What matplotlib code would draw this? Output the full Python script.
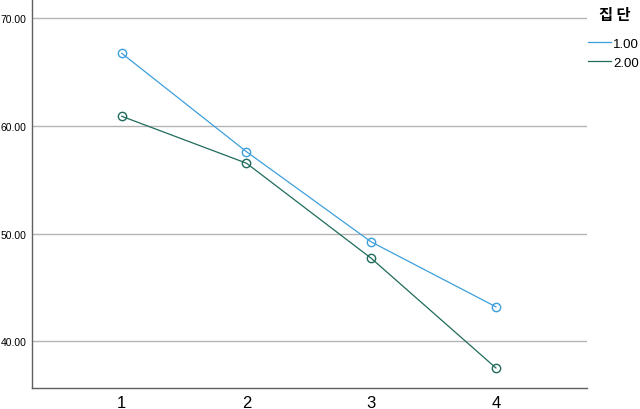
import matplotlib.pyplot as plt

plt.rcParams['font.family'] = ['Noto Sans CJK KR', 'DejaVu Sans']

# 시점 / 집단별 평균
times = [1, 2, 3, 4]
group1 = [66.75, 57.61, 49.23, 43.20]
group2 = [60.90, 56.54, 47.71, 37.52]
y_ticks = [40, 50, 60, 70]

blue = '#3d9fdc'
green = '#1f6b5c'

fig = plt.figure(figsize=(6.4, 4.1), dpi=100)
ax = fig.add_axes([0.05, 0.0512, 0.867, 0.9488])

ax.plot(times, group1, color=blue, lw=0.9, marker='o', ms=6,
        mfc='none', mec=blue, mew=1.0, label='1.00')
ax.plot(times, group2, color=green, lw=0.9, marker='o', ms=6,
        mfc='none', mec=green, mew=1.0, label='2.00')

ax.set_xlim(0.281, 4.729)
ax.set_ylim(35.66, 71.79)
ax.set_xticks(times)
ax.set_xticklabels([str(t) for t in times], fontsize=12, family=['Liberation Sans'])
ax.set_yticks(y_ticks)
ax.set_yticklabels(['%.2f' % v for v in y_ticks], fontsize=7.5, family=['Liberation Sans'])
ax.tick_params(length=0, pad=4)
ax.tick_params(axis='x', pad=5)

ax.grid(axis='y', color='#b4b4b4', lw=1.0)
ax.set_axisbelow(True)
for s in ['top', 'right']:
    ax.spines[s].set_visible(False)
for s in ['left', 'bottom']:
    ax.spines[s].set_color('#606060')
    ax.spines[s].set_linewidth(1.0)

# 범례 제목
fig.text(599 / 640, 1 - 15 / 410, '집 단', fontsize=11, fontweight='bold',
         ha='left', va='center')

leg = fig.legend(loc='upper left', bbox_to_anchor=(588 / 640, 1 - 38.5 / 410),
                 frameon=False, fontsize=9.5, handlelength=1.75,
                 handletextpad=0.15, labelspacing=0.5, borderaxespad=0,
                 borderpad=0)
for h in leg.legend_handles:
    h.set_marker('')
for t in leg.get_texts():
    t.set_family(['Liberation Sans'])

fig.savefig('out.png', dpi=100)
